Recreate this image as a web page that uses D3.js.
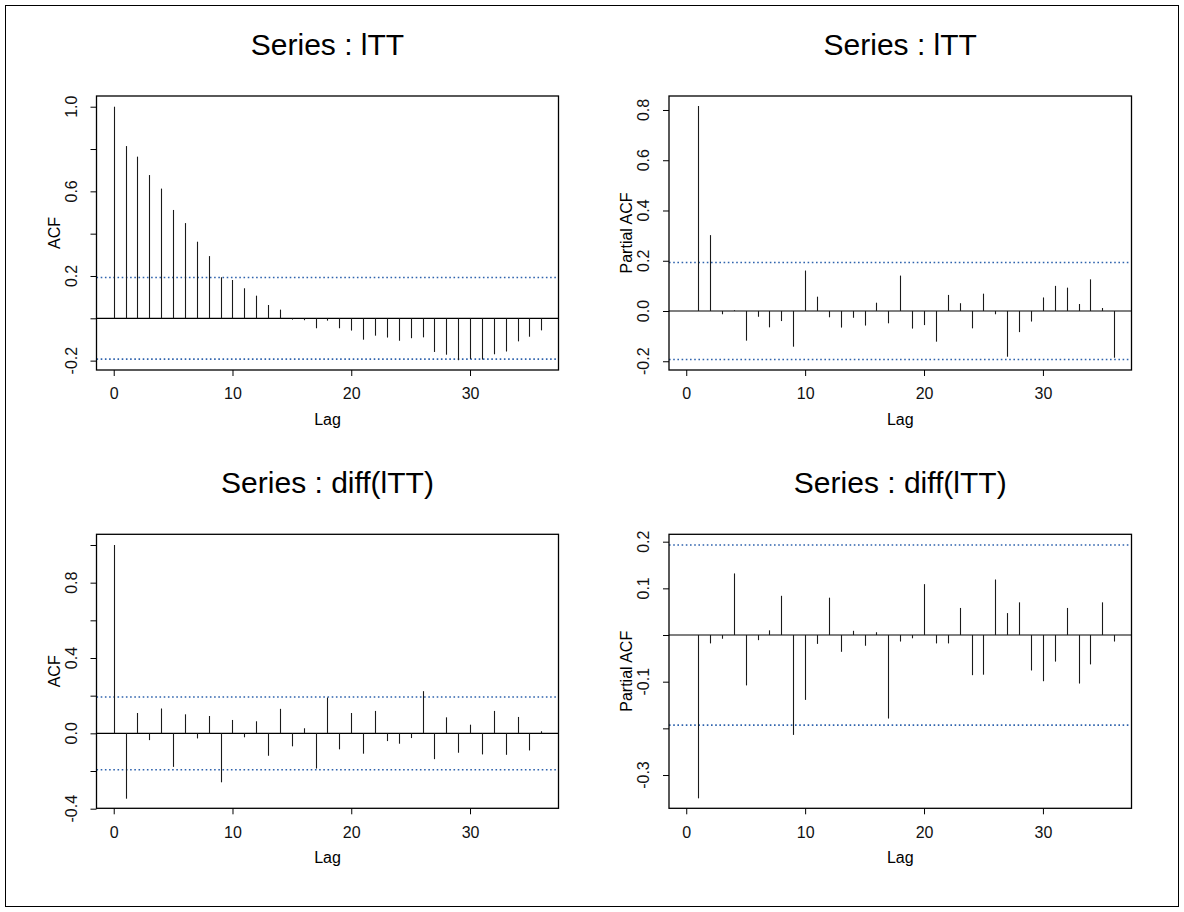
<!DOCTYPE html>
<html>
<head>
<meta charset="utf-8">
<script src="https://cdn.jsdelivr.net/npm/d3@7"></script>
<style>
  body { margin: 0; background: #fff; }
  svg { font-family: "Liberation Sans", Arial, Helvetica, sans-serif; }
  .bar { stroke: #1a1a1a; stroke-width: 1.1; }
  .conf { stroke: #2f63ad; stroke-width: 1.6; stroke-dasharray: 1.6 2.6; }
</style>
</head>
<body>
<div id="chart"></div>
<script>
// ACF / PACF values
var acfLtt = [1.0, 0.814, 0.764, 0.677, 0.613, 0.512, 0.450, 0.362, 0.294, 0.194,
  0.181, 0.142, 0.107, 0.063, 0.041, -0.006, -0.009, -0.047, -0.011, -0.047,
  -0.058, -0.101, -0.082, -0.091, -0.106, -0.094, -0.090, -0.159, -0.172, -0.198,
  -0.192, -0.195, -0.170, -0.157, -0.109, -0.087, -0.057];

var pacfLtt = [0.816, 0.302, -0.013, 0.003, -0.118, -0.023, -0.065, -0.040, -0.142, 0.161,
  0.057, -0.025, -0.066, -0.027, -0.058, 0.033, -0.049, 0.141, -0.070, -0.056,
  -0.122, 0.064, 0.031, -0.069, 0.069, -0.013, -0.182, -0.084, -0.042, 0.054,
  0.100, 0.093, 0.028, 0.126, 0.012, -0.186];

var acfDiff = [1.0, -0.347, 0.108, -0.036, 0.132, -0.178, 0.101, -0.027, 0.092, -0.260,
  0.071, -0.021, 0.064, -0.119, 0.130, -0.069, 0.027, -0.187, 0.190, -0.085,
  0.108, -0.108, 0.119, -0.041, -0.055, -0.025, 0.224, -0.137, 0.085, -0.103,
  0.046, -0.112, 0.119, -0.114, 0.087, -0.091, 0.011];

var pacfDiff = [-0.350, -0.018, -0.008, 0.132, -0.108, -0.011, 0.010, 0.084, -0.214, -0.139,
  -0.019, 0.080, -0.036, 0.009, -0.023, 0.006, -0.179, -0.014, -0.007, 0.109,
  -0.018, -0.018, 0.058, -0.086, -0.085, 0.119, 0.047, 0.070, -0.076, -0.099,
  -0.057, 0.058, -0.104, -0.063, 0.070, -0.014];

var confLimit = 0.193;
var lagTicks = [0, 10, 20, 30];

var width = 1184, height = 912;

// plain hyphen for negatives, like the original
var fmt = function(d) { return d3.format(".1f")(d).replace("\u2212", "-"); };

var svg = d3.select("#chart").append("svg")
  .attr("width", width)
  .attr("height", height);

// outer frame
svg.append("rect")
  .attr("x", 5.5).attr("y", 5.5)
  .attr("width", width - 11).attr("height", height - 11)
  .attr("fill", "none").attr("stroke", "#000").attr("stroke-width", 1);

var panels = [
  {title: "Series : lTT", ylab: "ACF", values: acfLtt, firstLag: 0,
   box: [96.5, 96, 558.5, 370], ydom: [-0.2443, 1.0506],
   yticks: [-0.2, 0, 0.2, 0.4, 0.6, 0.8, 1.0], ylabels: [-0.2, 0.2, 0.6, 1.0]},
  {title: "Series : lTT", ylab: "Partial ACF", values: pacfLtt, firstLag: 1,
   box: [669, 96, 1131.5, 370], ydom: [-0.2348, 0.8557],
   yticks: [-0.2, 0, 0.2, 0.4, 0.6, 0.8], ylabels: [-0.2, 0, 0.2, 0.4, 0.6, 0.8]},
  {title: "Series : diff(lTT)", ylab: "ACF", values: acfDiff, firstLag: 0,
   box: [96.5, 534.3, 558.5, 808.3], ydom: [-0.398, 1.0568],
   yticks: [-0.4, -0.2, 0, 0.2, 0.4, 0.6, 0.8, 1.0], ylabels: [-0.4, 0, 0.4, 0.8]},
  {title: "Series : diff(lTT)", ylab: "Partial ACF", values: pacfDiff, firstLag: 1,
   box: [669, 534.3, 1131.5, 808.3], ydom: [-0.3713, 0.2158],
   yticks: [-0.3, -0.2, -0.1, 0, 0.1, 0.2], ylabels: [-0.3, -0.1, 0.1, 0.2]}
];

panels.forEach(function(p) {
  var x0 = p.box[0], y0 = p.box[1], x1 = p.box[2], y1 = p.box[3];

  var x = d3.scaleLinear().domain([-1.45, 37.45]).range([x0, x1]);
  var y = d3.scaleLinear().domain(p.ydom).range([y1, y0]);

  var g = svg.append("g");

  // title
  g.append("text")
    .attr("x", (x0 + x1) / 2)
    .attr("y", y0 - 41)
    .attr("text-anchor", "middle")
    .attr("font-size", 30)
    .text(p.title);

  // confidence limits
  [confLimit, -confLimit].forEach(function(c) {
    g.append("line")
      .attr("class", "conf")
      .attr("x1", x0).attr("x2", x1)
      .attr("y1", y(c)).attr("y2", y(c));
  });

  // zero line
  g.append("line")
    .attr("x1", x0).attr("x2", x1)
    .attr("y1", y(0)).attr("y2", y(0))
    .attr("stroke", "#000").attr("stroke-width", 1.2);

  // spikes
  g.selectAll(".bar")
    .data(p.values)
    .enter().append("line")
    .attr("class", "bar")
    .attr("x1", function(d, i) { return Math.round(x(i + p.firstLag)) + 0.5; })
    .attr("x2", function(d, i) { return Math.round(x(i + p.firstLag)) + 0.5; })
    .attr("y1", y(0))
    .attr("y2", function(d) { return y(d); });

  // box
  g.append("rect")
    .attr("x", x0).attr("y", y0)
    .attr("width", x1 - x0).attr("height", y1 - y0)
    .attr("fill", "none").attr("stroke", "#000").attr("stroke-width", 1.3);

  // x axis
  var xAxis = d3.axisBottom(x).tickValues(lagTicks).tickSize(6).tickPadding(12)
    .tickFormat(d3.format("d"));
  var xg = g.append("g").attr("transform", "translate(0," + y1 + ")").call(xAxis);
  xg.select(".domain").remove();
  xg.selectAll("text").attr("font-size", 16).attr("fill", "#111");

  g.append("text")
    .attr("x", (x0 + x1) / 2)
    .attr("y", y1 + 55)
    .attr("text-anchor", "middle")
    .attr("font-size", 16)
    .text("Lag");

  // y axis
  var yAxis = d3.axisLeft(y).tickValues(p.yticks).tickSize(6).tickFormat("");
  var yg = g.append("g").attr("transform", "translate(" + x0 + ",0)").call(yAxis);
  yg.select(".domain").remove();

  g.selectAll(".ylabel")
    .data(p.ylabels)
    .enter().append("text")
    .attr("class", "ylabel")
    .attr("transform", function(d) { return "translate(" + (x0 - 20) + "," + y(d) + ") rotate(-90)"; })
    .attr("text-anchor", "middle")
    .attr("font-size", 16)
    .attr("fill", "#111")
    .text(fmt);

  g.append("text")
    .attr("transform", "translate(" + (x0 - 37) + "," + ((y0 + y1) / 2) + ") rotate(-90)")
    .attr("text-anchor", "middle")
    .attr("font-size", 16)
    .text(p.ylab);
});
</script>
</body>
</html>
